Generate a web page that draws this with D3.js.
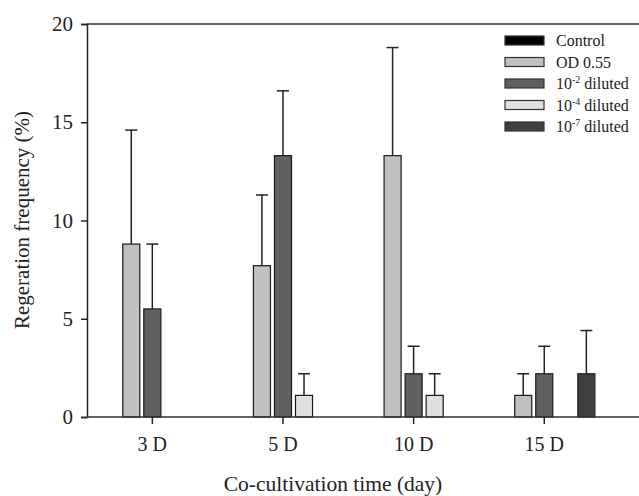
<!DOCTYPE html>
<html>
<head>
  <script src="https://cdn.jsdelivr.net/npm/d3@7"></script>
  <style>
    body, html {
      margin: 0;
      padding: 0;
      background: white;
      overflow: hidden;
    }
    svg text {
      font-family: 'Liberation Serif', 'Times New Roman', serif;
      fill: #222;
    }
  </style>
</head>
<body>
  <svg id="chart" width="639" height="496"></svg>
  <script>
    const days = ["3 D", "5 D", "10 D", "15 D"];
    const seriesNames = ["Control", "OD 0.55", "10-2 diluted", "10-4 diluted", "10-7 diluted"];
    const seriesColors = ["#000000", "#c0c0c0", "#606060", "#e0e0e0", "#404040"];
    // one array per series, values by day
    const control = [0, 0, 0, 0];
    const od055 = [8.8, 7.7, 13.3, 1.1];
    const dil2 = [5.5, 13.3, 2.2, 2.2];
    const dil4 = [0, 1.1, 1.1, 0];
    const dil7 = [0, 0, 0, 2.2];
    // upper error (mean + sd)
    const controlErr = [0, 0, 0, 0];
    const od055Err = [14.6, 11.3, 18.8, 2.2];
    const dil2Err = [8.8, 16.6, 3.6, 3.6];
    const dil4Err = [0, 2.2, 2.2, 0];
    const dil7Err = [0, 0, 0, 4.4];
    const yTicks = [0, 5, 10, 15, 20];

    const values = [control, od055, dil2, dil4, dil7];
    const errs = [controlErr, od055Err, dil2Err, dil4Err, dil7Err];

    const svg = d3.select('#chart');
    const mLeft = 87, mRight = 609.6, mTop = 24, mBottom = 417;

    const x0 = d3.scaleBand().domain(days).range([mLeft, mRight]).padding(0);
    const x1 = d3.scaleBand().domain(d3.range(seriesNames.length))
      .range([0, x0.bandwidth()]).paddingInner(0.19).paddingOuter(0.7);
    const y = d3.scaleLinear().domain([0, 20]).range([mBottom, mTop]);

    let data = [];
    days.forEach((d, i) => {
      values.forEach((s, j) => {
        data.push({ day: d, series: j, value: s[i], err: errs[j][i] });
      });
    });
    data = data.filter(d => d.value > 0);

    // frame: top line, runs to the edge
    svg.append('path')
      .attr('d', `M ${mLeft} ${mTop} L 639 ${mTop}`)
      .attr('stroke', '#333').attr('stroke-width', 1.5).attr('fill', 'none');

    // error bars (drawn first, bars on top)
    const eb = svg.append('g');
    const cx = d => x0(d.day) + x1(d.series) + x1.bandwidth() / 2;
    eb.selectAll('line.v')
      .data(data.filter(d => d.err > d.value))
      .join('line')
      .attr('class', 'v')
      .attr('x1', cx).attr('x2', cx)
      .attr('y1', d => y(d.value))
      .attr('y2', d => y(d.err))
      .attr('stroke', '#222').attr('stroke-width', 1.5);
    eb.selectAll('line.cap')
      .data(data.filter(d => d.err > d.value))
      .join('line')
      .attr('class', 'cap')
      .attr('x1', d => cx(d) - 6)
      .attr('x2', d => cx(d) + 6)
      .attr('y1', d => y(d.err))
      .attr('y2', d => y(d.err))
      .attr('stroke', '#222').attr('stroke-width', 1.5);

    svg.append('g')
      .selectAll('rect')
      .data(data)
      .join('rect')
      .attr('x', d => x0(d.day) + x1(d.series))
      .attr('y', d => y(d.value))
      .attr('width', x1.bandwidth())
      .attr('height', d => y(0) - y(d.value))
      .attr('fill', d => seriesColors[d.series])
      .attr('stroke', '#1a1a1a')
      .attr('stroke-width', 1.2);

    // y axis
    const yAxis = svg.append('g')
      .attr('transform', `translate(${mLeft},0)`)
      .call(d3.axisLeft(y).tickValues(yTicks).tickSize(6).tickPadding(8));
    yAxis.selectAll('path, line').attr('stroke', '#222').attr('stroke-width', 1.5);
    yAxis.selectAll('text').style('font-size', '21px').attr('fill', '#222');

    // x axis
    const xAxis = svg.append('g')
      .attr('transform', `translate(0,${mBottom})`)
      .call(d3.axisBottom(x0).tickSize(7).tickPadding(13));
    xAxis.select('.domain').remove();
    xAxis.append('path')
      .attr('d', `M ${mLeft} 0 L 639 0`)
      .attr('stroke', '#333').attr('stroke-width', 1.5).attr('fill', 'none');
    xAxis.selectAll('line').attr('stroke', '#222').attr('stroke-width', 1.5);
    xAxis.selectAll('text').style('font-size', '20px').attr('fill', '#222');

    // axis titles
    svg.append('text')
      .attr('x', 333).attr('y', 491)
      .attr('text-anchor', 'middle')
      .style('font-size', '21.5px')
      .text('Co-cultivation time (day)');
    svg.append('text')
      .attr('transform', 'translate(29,220) rotate(-90)')
      .attr('text-anchor', 'middle')
      .style('font-size', '21px')
      .text('Regeration frequency (%)');

    // legend
    const legend = svg.append('g').attr('transform', 'translate(505,36)');
    const rows = legend.selectAll('g')
      .data(seriesNames)
      .join('g')
      .attr('transform', (d, i) => `translate(0,${i * 21.5})`);
    rows.append('rect')
      .attr('width', 39).attr('height', 9)
      .attr('fill', (d, i) => seriesColors[i])
      .attr('stroke', '#333').attr('stroke-width', 1.2);
    const lt = rows.append('text')
      .attr('x', 51).attr('y', 10)
      .style('font-size', '16px');
    lt.each(function (d) {
      const t = d3.select(this);
      const m = d.match(/^10(-\d) (.*)$/);
      if (m) {
        t.append('tspan').text('10');
        t.append('tspan').attr('dy', -6).style('font-size', '10px').text(m[1]);
        t.append('tspan').attr('dy', 6).text(' ' + m[2]);
      } else {
        t.text(d);
      }
    });
  </script>
</body>
</html>
